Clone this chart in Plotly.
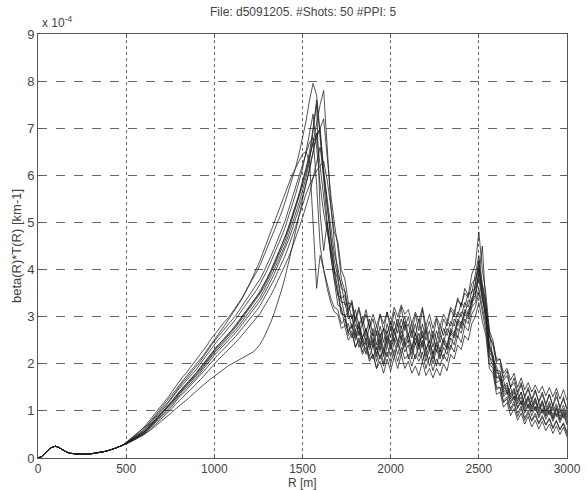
import plotly.graph_objects as go

# Range samples (m)
R = list(range(0, 3001, 20))

# Common near-field part (0..480 m), units of 1e-4 km-1
HEAD = [0.0, 0.03, 0.1, 0.18, 0.23, 0.25, 0.22, 0.17, 0.13, 0.1, 0.09, 0.08, 0.08,
        0.08, 0.08, 0.09, 0.1, 0.11, 0.12, 0.14, 0.16, 0.18, 0.21, 0.24, 0.27]

# Individual profiles from 500 m to 3000 m (20 m step), units of 1e-4 km-1
S1 = [0.33,0.39,0.45,0.52,0.58,0.65,0.74,0.83,0.92,1.01,1.1,1.2,1.3,1.41,1.52,
      1.62,1.72,1.8,1.9,1.99,2.08,2.19,2.3,2.4,2.52,2.62,2.7,2.8,2.9,2.98,
      3.08,3.2,3.3,3.42,3.55,3.66,3.8,3.95,4.1,4.28,4.45,4.62,4.8,5.0,5.2,
      5.42,5.65,5.9,6.15,6.45,6.8,7.15,7.6,7.95,7.7,6.9,6.1,5.5,4.9,4.35,
      4.05,3.6,3.55,3.15,3.35,2.9,3.15,2.8,3.05,2.75,2.95,2.6,3.05,2.7,3.1,
      2.7,3.1,2.8,3.2,2.75,3.0,2.65,3.05,2.7,3.15,2.65,2.9,2.55,2.95,2.6,
      2.95,2.8,3.15,3.0,3.4,3.2,3.6,3.45,3.9,4.1,4.8,4.0,3.5,2.7,2.5,
      2.05,2.1,1.7,1.85,1.5,1.7,1.4,1.6,1.3,1.5,1.25,1.45,1.2,1.4,1.15,
      1.35,1.1,1.4,1.05,1.3,1.0]
S2 = [0.29,0.33,0.37,0.41,0.45,0.49,0.55,0.62,0.69,0.76,0.83,0.9,0.97,1.05,1.14,
      1.22,1.29,1.36,1.43,1.5,1.57,1.66,1.74,1.83,1.92,2.0,2.08,2.15,2.22,2.3,
      2.37,2.45,2.53,2.62,2.7,2.8,2.88,2.97,3.07,3.2,3.32,3.45,3.6,3.76,3.9,
      4.06,4.25,4.45,4.65,4.88,5.1,5.35,5.6,5.95,6.3,6.6,6.0,5.3,4.6,4.0,
      3.6,3.1,3.0,2.6,2.7,2.35,2.5,2.2,2.35,2.05,2.2,1.9,2.2,1.95,2.25,
      2.0,2.3,2.05,2.35,2.1,2.2,1.95,2.2,2.05,2.25,1.9,2.15,1.85,2.1,1.95,
      2.2,2.05,2.4,2.25,2.6,2.45,2.8,2.7,3.05,3.2,3.5,3.1,2.7,2.0,1.9,
      1.45,1.5,1.2,1.3,1.05,1.2,0.95,1.1,0.85,1.0,0.8,0.95,0.75,0.9,0.7,
      0.85,0.65,0.8,0.6,0.75,0.55]
S3 = [0.31,0.36,0.41,0.46,0.51,0.56,0.63,0.72,0.8,0.88,0.96,1.04,1.12,1.21,1.31,
      1.41,1.49,1.57,1.65,1.73,1.82,1.92,2.02,2.12,2.22,2.31,2.4,2.47,2.55,2.64,
      2.72,2.82,2.92,3.02,3.12,3.22,3.32,3.43,3.55,3.68,3.82,3.98,4.15,4.32,4.5,
      4.68,4.9,5.12,5.35,5.6,5.88,6.15,6.5,7.0,7.5,5.2,4.4,5.0,4.5,3.9,
      3.45,3.4,3.0,3.1,2.75,3.0,2.6,2.85,2.45,2.8,2.35,2.7,2.3,2.75,2.4,
      2.8,2.45,2.85,2.5,2.9,2.45,2.7,2.4,2.65,2.35,2.7,2.3,2.6,2.25,2.6,
      2.45,2.75,2.6,2.95,2.85,3.1,3.05,3.35,3.3,3.7,4.1,3.5,3.1,2.4,2.2,
      1.8,1.8,1.45,1.55,1.3,1.45,1.2,1.4,1.1,1.3,1.05,1.25,1.0,1.2,0.95,
      1.15,0.9,1.1,0.88,1.05,0.85]
S4 = [0.3,0.34,0.38,0.42,0.46,0.5,0.55,0.6,0.66,0.72,0.78,0.84,0.9,0.97,1.04,
      1.1,1.16,1.22,1.29,1.36,1.43,1.5,1.56,1.62,1.68,1.74,1.8,1.86,1.91,1.96,
      2.0,2.04,2.08,2.12,2.16,2.2,2.25,2.32,2.42,2.55,2.7,2.88,3.08,3.3,3.55,
      3.82,4.12,4.45,4.8,5.15,5.5,5.85,6.2,6.5,6.8,7.0,7.2,6.4,5.6,5.0,
      4.5,3.8,3.55,3.0,3.0,2.6,2.8,2.45,2.65,2.35,2.55,2.2,2.55,2.2,2.6,
      2.35,2.65,2.45,2.7,2.4,2.6,2.3,2.65,2.35,2.7,2.3,2.5,2.2,2.45,2.25,
      2.5,2.35,2.7,2.6,2.9,2.8,3.1,3.0,3.35,3.45,3.8,3.35,3.05,2.35,2.15,
      1.7,1.75,1.4,1.5,1.25,1.4,1.15,1.3,1.05,1.25,1.0,1.2,0.95,1.15,0.9,
      1.1,0.85,1.05,0.82,1.0,0.8]
S5 = [0.32,0.38,0.44,0.5,0.56,0.62,0.7,0.79,0.88,0.97,1.06,1.15,1.24,1.34,1.44,
      1.54,1.63,1.72,1.81,1.9,1.99,2.09,2.19,2.3,2.41,2.52,2.62,2.72,2.82,2.93,
      3.04,3.16,3.28,3.4,3.54,3.7,3.86,4.02,4.2,4.4,4.6,4.8,5.0,5.2,5.4,
      5.6,5.8,6.0,6.15,6.3,6.45,6.5,6.3,5.0,3.6,4.3,4.0,3.6,3.3,3.1,
      3.05,2.75,2.8,2.5,2.65,2.35,2.55,2.25,2.45,2.15,2.4,2.05,2.35,2.0,2.4,
      2.15,2.45,2.2,2.5,2.25,2.4,2.1,2.45,2.15,2.45,2.05,2.3,2.0,2.3,2.1,
      2.35,2.2,2.55,2.4,2.75,2.65,2.95,2.85,3.2,3.3,3.6,3.2,2.85,2.15,2.05,
      1.6,1.65,1.3,1.4,1.15,1.3,1.05,1.2,0.95,1.12,0.9,1.08,0.85,1.02,0.82,
      0.98,0.78,0.95,0.75,0.92,0.7]
S6 = [0.31,0.35,0.4,0.45,0.49,0.54,0.61,0.69,0.77,0.85,0.93,1.01,1.09,1.18,1.27,
      1.37,1.45,1.53,1.61,1.69,1.77,1.87,1.97,2.07,2.17,2.27,2.35,2.43,2.51,2.59,
      2.67,2.77,2.87,2.97,3.07,3.17,3.27,3.37,3.49,3.62,3.76,3.92,4.08,4.25,4.42,
      4.6,4.82,5.05,5.28,5.52,5.78,6.05,6.35,6.7,7.1,7.5,7.8,6.6,5.4,4.6,
      3.9,3.7,3.25,3.3,2.95,3.15,2.8,3.0,2.65,2.95,2.6,2.8,2.55,2.75,2.65,
      2.9,2.65,2.95,2.75,3.0,2.6,2.85,2.6,2.95,2.55,2.8,2.45,2.7,2.5,2.8,
      2.6,2.9,2.8,3.1,3.0,3.3,3.2,3.5,3.5,3.9,4.3,3.7,3.3,2.6,2.4,
      2.0,2.0,1.65,1.75,1.5,1.6,1.35,1.55,1.3,1.45,1.2,1.42,1.18,1.35,1.12,
      1.35,1.1,1.3,1.08,1.25,1.05]
S7 = [0.3,0.35,0.39,0.44,0.48,0.52,0.6,0.67,0.75,0.83,0.9,0.98,1.05,1.14,1.23,
      1.33,1.41,1.48,1.56,1.63,1.71,1.8,1.9,2.0,2.09,2.18,2.26,2.34,2.41,2.49,
      2.56,2.66,2.75,2.85,2.94,3.04,3.13,3.23,3.34,3.47,3.6,3.76,3.91,4.08,4.24,
      4.42,4.62,4.83,5.05,5.3,5.55,5.8,6.1,6.5,6.9,6.2,5.5,4.9,4.3,3.8,
      3.5,3.05,3.05,2.7,2.8,2.5,2.7,2.35,2.55,2.3,2.5,2.15,2.5,2.15,2.55,
      2.3,2.55,2.35,2.6,2.35,2.5,2.2,2.55,2.3,2.5,2.15,2.4,2.1,2.4,2.15,
      2.45,2.3,2.65,2.55,2.85,2.75,3.05,2.95,3.3,3.4,4.0,3.4,2.9,2.15,1.95,
      1.5,1.5,1.18,1.25,1.0,1.15,0.88,1.05,0.8,0.95,0.78,0.9,0.72,0.86,0.7,
      0.82,0.62,0.78,0.6,0.72,0.5]
S8 = [0.32,0.37,0.43,0.48,0.53,0.58,0.66,0.75,0.83,0.91,1.0,1.08,1.17,1.26,1.37,
      1.47,1.55,1.64,1.72,1.81,1.89,2.0,2.1,2.2,2.31,2.41,2.5,2.58,2.67,2.75,
      2.84,2.94,3.05,3.15,3.26,3.36,3.47,3.57,3.7,3.84,3.99,4.16,4.33,4.52,4.69,
      4.88,5.11,5.34,5.59,5.86,6.14,6.5,6.9,7.3,6.6,5.8,5.2,4.8,4.4,4.0,
      3.8,3.4,3.45,3.1,3.3,2.95,3.2,2.85,3.15,2.8,3.05,2.8,3.05,2.85,3.1,
      2.85,3.2,3.0,3.25,3.05,3.15,2.85,3.1,2.9,3.2,2.8,3.05,2.75,3.0,2.8,
      3.05,2.9,3.2,3.1,3.35,3.25,3.5,3.4,3.7,3.8,4.0,3.6,3.25,2.55,2.45,
      2.1,2.1,1.8,1.9,1.65,1.8,1.5,1.7,1.45,1.6,1.4,1.55,1.38,1.52,1.32,
      1.5,1.3,1.48,1.25,1.45,1.22]
S9 = [0.3,0.34,0.38,0.42,0.46,0.51,0.58,0.65,0.73,0.8,0.87,0.95,1.02,1.1,1.2,
      1.29,1.36,1.44,1.51,1.58,1.66,1.75,1.84,1.93,2.02,2.12,2.19,2.26,2.34,2.41,
      2.48,2.58,2.67,2.76,2.85,2.94,3.04,3.13,3.24,3.37,3.5,3.64,3.79,3.96,4.11,
      4.28,4.48,4.68,4.9,5.13,5.38,5.6,5.8,5.95,6.1,6.2,6.3,5.9,5.3,4.8,
      4.6,4.0,3.8,3.3,3.25,2.8,2.8,2.4,2.45,2.1,2.2,1.9,2.05,1.8,2.1,
      1.85,2.15,1.9,2.2,1.9,2.05,1.8,1.95,1.75,2.05,1.75,1.9,1.7,1.9,1.75,
      2.0,1.85,2.2,2.1,2.4,2.3,2.6,2.5,2.85,3.0,3.3,2.9,2.6,1.9,1.8,
      1.35,1.4,1.08,1.18,0.9,1.05,0.8,0.95,0.72,0.88,0.66,0.8,0.62,0.78,0.58,
      0.72,0.52,0.68,0.5,0.65,0.45]
S10 = [0.31,0.36,0.41,0.46,0.5,0.55,0.63,0.71,0.79,0.87,0.95,1.03,1.11,1.2,1.3,
       1.4,1.48,1.56,1.64,1.72,1.8,1.9,2.0,2.1,2.2,2.3,2.38,2.46,2.54,2.62,
       2.7,2.8,2.9,3.0,3.1,3.2,3.3,3.4,3.52,3.66,3.8,3.96,4.12,4.3,4.47,
       4.65,4.87,5.09,5.32,5.58,5.85,6.1,6.4,6.7,6.85,7.0,6.1,5.4,4.7,4.2,
       3.85,3.3,3.3,2.95,3.05,2.7,2.9,2.55,2.75,2.4,2.65,2.3,2.65,2.3,2.7,
       2.4,2.75,2.45,2.8,2.5,2.65,2.35,2.65,2.4,2.6,2.3,2.5,2.2,2.5,2.3,
       2.55,2.4,2.75,2.65,2.95,2.85,3.15,3.05,3.4,3.5,3.9,4.5,3.2,2.7,2.05,
       1.95,1.65,1.65,1.35,1.5,1.22,1.38,1.12,1.3,1.05,1.22,1.0,1.18,0.95,1.12,
       0.92,1.1,0.88,1.05,0.85,1.0]
S11 = [0.33,0.38,0.44,0.49,0.54,0.6,0.68,0.77,0.85,0.94,1.03,1.11,1.2,1.3,1.4,
       1.51,1.6,1.68,1.77,1.86,1.94,2.05,2.16,2.27,2.38,2.48,2.57,2.66,2.74,2.83,
       2.92,3.02,3.13,3.24,3.35,3.46,3.56,3.67,3.8,3.95,4.1,4.28,4.45,4.64,4.83,
       5.02,5.26,5.5,5.75,6.0,6.25,6.5,6.7,6.8,5.8,4.5,4.0,3.7,3.4,3.2,
       3.15,2.85,2.95,2.65,2.85,2.55,2.8,2.55,2.75,2.5,2.75,2.4,2.8,2.45,2.85,
       2.55,2.9,2.65,2.95,2.7,2.85,2.55,2.85,2.45,2.85,2.5,2.7,2.35,2.7,2.45,
       2.75,2.6,2.9,2.8,3.1,3.0,3.3,3.2,3.55,3.6,3.9,3.4,3.0,2.25,2.1,
       1.7,1.7,1.35,1.45,1.2,1.32,1.08,1.22,1.0,1.15,0.98,1.1,0.9,1.05,0.88,
       1.02,0.82,1.05,0.8,0.96,0.74]
S12 = [0.31,0.35,0.4,0.45,0.49,0.54,0.61,0.69,0.77,0.85,0.92,1.0,1.08,1.17,1.26,
       1.36,1.44,1.51,1.59,1.67,1.75,1.84,1.94,2.04,2.13,2.23,2.31,2.39,2.46,2.54,
       2.62,2.72,2.81,2.91,3.01,3.1,3.2,3.3,3.41,3.55,3.69,3.84,4.0,4.17,4.34,
       4.51,4.72,4.94,5.16,5.41,5.67,5.95,6.3,6.9,7.6,6.8,5.9,5.0,4.3,3.75,
       3.25,3.2,2.8,2.85,2.55,2.7,2.35,2.55,2.2,2.5,2.1,2.35,2.1,2.3,2.15,
       2.4,2.15,2.45,2.2,2.5,2.1,2.35,2.1,2.45,2.05,2.3,1.95,2.2,1.95,2.3,
       2.1,2.4,2.3,2.65,2.55,2.9,2.8,3.15,3.2,3.7,4.2,3.6,3.1,2.35,2.15,
       1.85,1.85,1.5,1.6,1.35,1.48,1.25,1.4,1.15,1.32,1.1,1.28,1.05,1.22,1.0,
       1.2,1.0,1.15,0.95,1.12,0.9]

SERIES = [S1, S2, S3, S4, S5, S6, S7, S8, S9, S10, S11, S12]

X_TICKS = [0, 500, 1000, 1500, 2000, 2500, 3000]
Y_TICKS = [0, 1, 2, 3, 4, 5, 6, 7, 8, 9]

FONT = "Liberation Sans, Arial, sans-serif"
TXT = "#444"

fig = go.Figure()
for s in SERIES:
    fig.add_trace(go.Scatter(
        x=R, y=HEAD + s, mode="lines",
        line=dict(color="rgba(30,30,30,0.85)", width=0.9),
        showlegend=False, hoverinfo="skip"))

axis_common = dict(
    showline=True, linecolor="#555", linewidth=1, mirror="ticks",
    ticks="inside", ticklen=4, tickcolor="#555",
    gridcolor="#666", gridwidth=1, zeroline=False, automargin=False,
)

fig.update_layout(
    width=587, height=490,
    margin=dict(l=38, r=20, t=34, b=32),
    paper_bgcolor="white", plot_bgcolor="white",
    font=dict(family=FONT, color=TXT),
    xaxis=dict(range=[0, 3000], tickvals=X_TICKS, griddash="dot",
               tickfont=dict(family=FONT, size=12, color=TXT), **axis_common),
    yaxis=dict(range=[0, 9], tickvals=Y_TICKS, griddash="dash",
               tickfont=dict(family=FONT, size=13, color=TXT),
               title=dict(text="beta(R)*T(R) [km-1]", font=dict(family=FONT, size=13, color=TXT), standoff=2),
               **axis_common),
    annotations=[
        dict(text="File: d5091205. #Shots: 50 #PPI: 5", xref="paper", yref="paper",
             x=0.5, y=1.0, yshift=22, xanchor="center", yanchor="middle", showarrow=False,
             font=dict(family=FONT, size=12, color=TXT)),
        dict(text="x 10<sup>-4</sup>", xref="paper", yref="paper",
             x=0.0, y=1.0, xshift=2, yshift=12, xanchor="left", yanchor="middle", showarrow=False,
             font=dict(family=FONT, size=12, color=TXT)),
        dict(text="R [m]", xref="paper", yref="paper",
             x=0.5, y=0.0, yshift=-25, xanchor="center", yanchor="middle", showarrow=False,
             font=dict(family=FONT, size=12, color=TXT)),
    ],
)

fig.write_html("out.html")
